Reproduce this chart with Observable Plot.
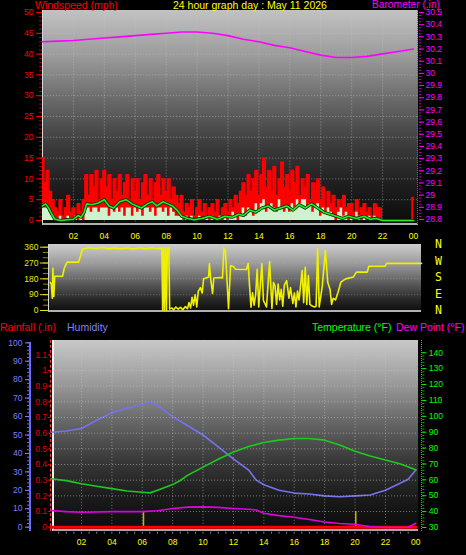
<!DOCTYPE html>
<html><head><meta charset="utf-8">
<script src="https://cdn.jsdelivr.net/npm/d3@7"></script>
<script src="https://cdn.jsdelivr.net/npm/@observablehq/plot@0.6"></script>
<style>
html,body{margin:0;padding:0;background:#000;}
#c{position:relative;width:466px;height:555px;background:#000;overflow:hidden;font-family:"Liberation Sans",Arial,sans-serif;}
.t{position:absolute;white-space:nowrap;font-size:10.5px;line-height:1;}
.p{position:absolute;box-sizing:border-box;}
</style></head><body><div id="c"></div>
<script>
// ---------- DATA ----------
const hourTicks = [2,4,6,8,10,12,14,16,18,20,22,24];
const hourLabels = ["02","04","06","08","10","12","14","16","18","20","22","00"];

// wind gust (mph), one value every 10 minutes from 00:00 to 24:00
const gustValues = [
 15,9,12,7,5,3,  2,5,1,3,6,2,  3,1,4,2,5,11,  6,11,8,12,5,10,
 12,8,11,5,10,7,  11,6,9,11,5,10,  7,10,5,9,11,6,  10,5,9,11,6,10,
 7,10,5,8,6,4,  6,2,4,3,5,1,  3,5,2,4,1,3,  4,2,5,1,3,4,
 2,5,3,6,4,7,  9,6,11,7,10,12,  6,11,15,8,12,7,  13,6,10,14,8,11,
 7,12,9,13,6,10,  8,11,5,9,7,10,  5,8,3,7,4,6,  3,5,2,6,3,4,
 4,2,5,1,3,4,  2,3,1,4,3,3,  0,0,0,0,0,0,  0,0,0,0,0,0,  5.5];
// wind speed (mph), every 10 minutes
const speedValues = [
 3,3,3,2,1,0,  0,1,0,0,1,0,  0,1,0,1,0,3,  3,2,3,3,2,3,
 3,3,1,3,2,3,  2,3,1,3,3,1,  3,2,3,1,3,3,  2,3,1,3,3,2,
 3,1,3,2,1,1,  1,0,1,0,1,0,  0,1,0,0,1,0,  1,0,0,1,0,1,
 0,1,2,1,0,1,  3,1,3,2,1,4,  2,4,5,2,3,4,  3,2,5,3,2,3,
 2,4,3,5,4,5,  5,3,4,2,3,4,  1,3,2,3,2,1,  0,2,3,1,2,0,
 1,0,2,1,0,1,  0,1,0,1,0,0,  0,0,0,0,0,0,  0,0,0,0,0,0,  0];
// average wind speed [hour, mph]
const windAvg = [[0,3.5],[0.2,4],[0.4,3],[0.6,1.5],[0.8,0.3],[1.2,0],[1.6,0.2],[2.0,0.3],[2.3,1.2],[2.5,0.8],
 [2.7,2],[2.85,4],[3.2,3.8],[3.6,4.2],[4.0,5],[4.3,3.5],[4.6,3],[5.0,4.5],[5.4,5],[5.8,4],
 [6.1,3.5],[6.4,3],[6.8,4],[7.1,4.5],[7.4,3.5],[7.8,4.5],[8.1,4],[8.4,3.5],[8.7,2.5],[9.0,1],
 [9.4,0.5],[9.8,0.2],[10.3,0.5],[10.8,1],[11.3,0.3],[11.8,1],[12.3,0.8],[12.7,1.5],[13.0,1.2],[13.4,2.5],
 [13.8,2],[14.2,3],[14.6,3.5],[15.0,2.5],[15.4,3],[15.8,3.5],[16.2,2.5],[16.6,3.8],[17.0,3],[17.4,4],
 [17.8,3],[18.2,2],[18.6,1.5],[19.0,1],[19.4,0.5],[19.8,1],[20.3,0.5],[20.8,1],[21.2,0.3],[21.6,0.5],[22,0],[24,0]];
// barometer [hour, inHg]
const baro = [[0,30.26],[1,30.265],[2,30.27],[3,30.28],[4,30.29],[5,30.30],[6,30.31],[7,30.32],[8,30.33],[9,30.34],
 [10,30.34],[11,30.33],[12,30.31],[13,30.28],[14,30.26],[15,30.23],[16,30.21],[17,30.18],[18,30.15],[19,30.13],
 [20,30.13],[21,30.14],[22,30.16],[23,30.18],[24,30.20]];
const windTicks = [0,5,10,15,20,25,30,35,40,45,50];
const baroTicks = [28.8,28.9,29,29.1,29.2,29.3,29.4,29.5,29.6,29.7,29.8,29.9,30,30.1,30.2,30.3,30.4,30.5];
const baroLabels = ["28.8","28.9","29","29.1","29.2","29.3","29.4","29.5","29.6","29.7","29.8","29.9","30","30.1","30.2","30.3","30.4","30.5"];

// wind direction [hour, degrees]
const windDir = [[0.05,160],[0.12,150],[0.18,70],[0.22,240],[0.28,80],[0.34,195],[0.84,195],[0.95,240],[1.05,260],[1.15,275],
 [1.87,275],[2.0,310],[2.13,350],[2.5,357],[3.0,354],[3.4,358],[3.8,352],[4.2,356],[4.6,351],[5.0,356],
 [5.4,350],[5.8,357],[6.2,352],[6.6,357],[7.0,353],[7.25,356],[7.3,3],[7.35,357],[7.42,0],[7.48,358],
 [7.55,2],[7.6,355],[7.7,358],[7.75,8],[7.9,15],[8.0,3],[8.15,20],[8.3,8],[8.45,18],[8.6,5],
 [8.77,22],[8.9,10],[9.0,45],[9.1,15],[9.2,75],[9.29,30],[9.4,90],[9.5,20],[9.6,110],[9.74,130],
 [9.85,100],[9.94,180],[10.1,185],[10.26,190],[10.32,265],[10.4,180],[10.52,97],[10.6,185],[11.0,188],[11.16,185],
 [11.25,355],[11.35,340],[11.55,10],[11.68,255],[11.87,250],[12.0,235],[12.7,233],[12.82,267],[12.9,150],[13.0,19],
 [13.1,100],[13.2,30],[13.3,90],[13.4,235],[13.5,20],[13.7,267],[13.8,57],[14.0,20],[14.2,278],[14.35,11],
 [14.45,160],[14.55,140],[14.65,35],[14.75,150],[14.85,60],[14.95,120],[15.05,25],[15.15,145],[15.3,170],[15.45,70],
 [15.55,130],[15.7,40],[15.8,100],[15.9,20],[16.0,110],[16.1,60],[16.3,227],[16.4,45],[16.5,246],[16.6,35],
 [16.7,199],[16.8,35],[16.95,25],[17.1,20],[17.2,25],[17.3,354],[17.4,20],[17.6,140],[17.8,341],[17.95,161],
 [18.1,120],[18.2,35],[18.3,70],[18.45,60],[18.6,100],[18.8,161],[19.1,180],[19.6,190],[19.8,218],[20.5,218],
 [20.6,252],[21.65,252],[21.75,268],[24,268]];
const dirTicks = [0,90,180,270,360];
const compass = ["N","W","S","E","N"];

// humidity [hour, %]
const humidity = [[0,51.5],[1,52.2],[2,53.5],[3,58],[4,62],[5,64.5],[6,66.5],[6.5,68],[7,66],[8,60],[9,55],[10,50],
 [11,43.5],[12,37],[13,31],[13.5,25.5],[14,23],[15,20],[16,18.5],[17,18],[18,17],[19,16.5],[20,17],[21,17.5],
 [22,20],[23,24],[23.5,26],[24,31]];
// temperature [hour, °F]
const temperature = [[0,60.7],[1,59.5],[2,57.5],[3,56],[4,54.5],[5,53],[6,52.2],[6.5,51.8],[7,53.5],[8,57],[8.5,59.6],
 [9,63],[10,68],[11,73],[12,77.5],[13,81],[14,83.5],[15,85],[16,86],[17,86],[18,85],[19,82],[20,78],[21,75],
 [22,72.5],[23,70],[24,66.3]];
// dew point [hour, °F]
const dewPoint = [[0,40.7],[1,40],[2,39.6],[3,39.8],[4,40],[5,40],[6,40],[7,40.5],[8,42],[9,42.8],[10,43],[11,42.7],
 [12,42],[13,41.5],[13.5,41],[14,39],[15,37.5],[16,36.5],[17,35],[18,33.5],[19,32.5],[20,32],[21,30.5],[22,30],
 [23,30],[23.5,30.2],[24,32.7]];
// rainfall [hour, in]
const rainfall = [[0,0],[6,0],[12,0],[18,0],[24,0]];
const rainMarkHours = [6.08, 20.05];
const rainMarkValues = [0.1, 0.1];
const humTicks = [0,10,20,30,40,50,60,70,80,90,100];
const rainTicks = [0,0.1,0.2,0.3,0.4,0.5,0.6,0.7,0.8,0.9,1,1.1];
const rainLabels = ["0","0.1","0.2","0.3","0.4","0.5","0.6","0.7","0.8","0.9","1","1.1"];
const tempTicks = [30,40,50,60,70,80,90,100,110,120,130,140];

// ---------- DRAWING ----------
const W = 466, H = 555;
const FONT = "'Liberation Sans', Arial, sans-serif";
const c = document.getElementById("c");
function div(cls, css, text) {
  const d = document.createElement("div");
  d.className = cls; d.style.cssText = css;
  if (text != null) d.textContent = text;
  c.appendChild(d); return d;
}
function layer(o) {
  const svg = Plot.plot(Object.assign({
    width: W, height: H,
    style: {background: "transparent", fontFamily: FONT, fontSize: "8.5px", overflow: "visible",
            position: "absolute", left: "0px", top: "0px"}
  }, o));
  c.appendChild(svg);
}
const blank = () => "";
const pts = a => a.map(([h, v]) => ({h, v}));
const gust = gustValues.map((v, i) => ({h: i / 6, v}));
const speed = speedValues.map((v, i) => ({h: i / 6, v}));
const dotted = {stroke: "#c8c8c8", strokeDasharray: "1,2", strokeOpacity: 0.55};

// panel backgrounds
div("p", "left:42px;top:10px;width:376px;height:215px;background:linear-gradient(#c2c2c2 0%,#9a9a9a 22%,#6a6a6a 42%,#3e3e3e 62%,#1e1e1e 82%,#0c0c0c 100%);border-left:1px solid #d8d8d8;border-bottom:2px solid #b0b0b0;border-right:1px dotted #ff00ff;");
div("p", "left:48px;top:244px;width:373px;height:68px;background:linear-gradient(#cdcdcd 0%,#9a9a9a 30%,#5a5a5a 60%,#262626 85%,#101010 100%);border-left:1px solid #d8d8d8;border-bottom:2px solid #b0b0b0;");
div("p", "left:52px;top:340px;width:366px;height:191px;background:linear-gradient(#c8c8c8 0%,#9c9c9c 22%,#6a6a6a 42%,#3c3c3c 62%,#1c1c1c 82%,#0c0c0c 100%);border-left:2px solid #f0f0f0;border-bottom:2px solid #a8a8a8;");
// axis decoration lines
div("p", "left:29px;top:342px;width:2px;height:189px;background:#6b6bff;");
div("p", "left:50px;top:340px;width:0;height:191px;border-left:1px dashed #ff3030;");
div("p", "left:421px;top:340px;width:0;height:191px;border-left:1px dotted #00e000;");

// ---- top panel: wind speed ----
layer({
  marginLeft: 42, marginRight: 53, marginTop: 12, marginBottom: 335,
  x: {domain: [0, 24]}, y: {domain: [0, 50]},
  marks: [
    Plot.ruleY(windTicks.slice(1, -1), {x1: -0.05, x2: 24.3, ...dotted}),
    Plot.ruleX(hourTicks.slice(0, -1), {y1: -1.1, y2: 50.5, ...dotted}),
    Plot.areaY(gust, {x: "h", y: "v", fill: "#ff0000", curve: "step"}),
    Plot.lineY(gust, {x: "h", y: "v", stroke: "#ff0000", strokeWidth: 1.5, curve: "step"}),
    Plot.areaY(speed, {x: "h", y: "v", fill: "#cdf2cd", curve: "step"}),
    Plot.line(pts(windAvg), {x: "h", y: "v", stroke: "#003000", strokeWidth: 3.2}),
    Plot.line(pts(windAvg), {x: "h", y: "v", stroke: "#22ee22", strokeWidth: 1.6}),
    Plot.axisY(d3.range(0, 51, 1), {anchor: "left", tickSize: 3, tickFormat: blank, stroke: "#b00000", label: null}),
    Plot.axisY(windTicks, {anchor: "left", tickSize: 6, tickPadding: 3, color: "#ff0000", label: null}),
    Plot.axisX(hourTicks, {anchor: "bottom", tickSize: 0, tickPadding: 12, tickFormat: (d, i) => hourLabels[i], color: "#ffff00", label: null})
  ]
});
// ---- top panel: barometer ----
layer({
  marginLeft: 42, marginRight: 53, marginTop: 12, marginBottom: 336,
  x: {domain: [0, 24], axis: null}, y: {domain: [28.8, 30.5]},
  marks: [
    Plot.line(pts(baro), {x: "h", y: "v", stroke: "#ff00ff", strokeWidth: 1.6}),
    Plot.axisY(d3.range(28.8, 30.51, 0.025), {anchor: "right", dx: 5, tickSize: 2, tickFormat: blank, stroke: "#c000c0", label: null}),
    Plot.axisY(baroTicks, {anchor: "right", dx: 5, tickSize: 5, tickPadding: 2, tickFormat: (d, i) => baroLabels[i], color: "#ff00ff", label: null})
  ]
});
// ---- middle panel: wind direction ----
layer({
  marginLeft: 49, marginRight: 45, marginTop: 246.7, marginBottom: 245,
  x: {domain: [0, 24], axis: null}, y: {domain: [0, 360]},
  marks: [
    Plot.ruleY([90, 180, 270], {x1: -0.05, x2: 24, stroke: "#d0d0d0", strokeDasharray: "1,2", strokeOpacity: 0.35}),
    Plot.line(pts(windDir), {x: "h", y: "v", stroke: "#f0f000", strokeWidth: 1.6}),
    Plot.axisY(d3.range(0, 361, 30), {anchor: "left", dx: -1, tickSize: 5, tickFormat: blank, stroke: "#8c8c00", label: null}),
    Plot.axisY(dirTicks, {anchor: "left", dx: -1, tickSize: 8, tickPadding: 2, color: "#e8e800", label: null})
  ]
});
// ---- bottom panel: humidity ----
layer({
  marginLeft: 50.6, marginRight: 50.7, marginTop: 342.3, marginBottom: 28.3,
  x: {domain: [0, 24], axis: null}, y: {domain: [0, 100]},
  marks: [
    Plot.line(pts(humidity), {x: "h", y: "v", stroke: "#7373ee", strokeWidth: 1.6}),
    Plot.axisY(d3.range(0, 101, 2), {anchor: "left", dx: -21.6, tickSize: 2, tickFormat: blank, stroke: "#6b6bff", label: null}),
    Plot.axisY(humTicks, {anchor: "left", dx: -21.6, tickSize: 4, tickPadding: 3, color: "#7f7fff", label: null})
  ]
});
// ---- bottom panel: rainfall ----
layer({
  marginLeft: 50.6, marginRight: 50.7, marginTop: 338.64, marginBottom: 28.3,
  x: {domain: [0, 24]}, y: {domain: [0, 1.2]},
  marks: [
    Plot.ruleY(rainTicks.slice(1), {x1: -0.1, x2: 24.2, ...dotted}),
    Plot.ruleX(hourTicks.slice(0, -1), {y1: -0.02, y2: 1.2, ...dotted}),
    Plot.ruleX(rainMarkHours.map((h, i) => ({h, v: rainMarkValues[i]})), {x: "h", y1: 0, y2: "v", stroke: "#c8b400", strokeWidth: 1.5}),
    Plot.line(pts(rainfall), {x: "h", y: "v", stroke: "#ff0000", strokeWidth: 3}),
    Plot.axisY(rainTicks, {anchor: "left", tickSize: 3, tickPadding: 1, tickFormat: (d, i) => rainLabels[i], color: "#e00000", label: null}),
    Plot.axisX(d3.range(0.5, 24, 0.5), {anchor: "bottom", dy: 5, tickSize: 2, tickFormat: blank, stroke: "#808080", label: null}),
    Plot.axisX(hourTicks, {anchor: "bottom", tickSize: 0, tickPadding: 12, tickFormat: (d, i) => hourLabels[i], color: "#ffff00", label: null})
  ]
});
// ---- bottom panel: temperature & dew point ----
layer({
  marginLeft: 50.6, marginRight: 50.7, marginTop: 352.3, marginBottom: 28,
  x: {domain: [0, 24], axis: null}, y: {domain: [30, 140]},
  marks: [
    Plot.line(pts(dewPoint), {x: "h", y: "v", stroke: "#e000e0", strokeWidth: 1.6}),
    Plot.line(pts(temperature), {x: "h", y: "v", stroke: "#1ccc1c", strokeWidth: 1.6}),
    Plot.axisY(d3.range(30, 141, 2), {anchor: "right", dx: 6, tickSize: 2, tickFormat: blank, stroke: "#00c000", label: null}),
    Plot.axisY(tempTicks, {anchor: "right", dx: 6, tickSize: 4, tickPadding: 3, color: "#00ff00", label: null})
  ]
});

// ---------- TEXT ----------
div("t", "left:35px;top:0px;color:#ff0000;", "Windspeed (mph)");
div("t", "left:173px;top:0px;color:#ffff00;", "24 hour graph day : May 11 2026");
div("t", "left:372px;top:0px;color:#ff00ff;font-size:10.2px;line-height:9.5px;", "Barometer (.in)");
div("t", "left:0px;top:322px;color:#ff0000;", "Rainfall (.in)");
div("t", "left:67px;top:322px;color:#8080ff;", "Humidity");
div("t", "left:312px;top:322px;color:#00ff00;", "Temperature (°F)");
div("t", "left:396px;top:322px;color:#ff00ff;", "Dew Point (°F)");
compass.forEach((s, i) => div("t", `left:435px;top:${239 + i * 16.6}px;font-family:'DejaVu Sans Mono',monospace;font-size:11.5px;color:#ffff00;`, s));
</script></body></html>
